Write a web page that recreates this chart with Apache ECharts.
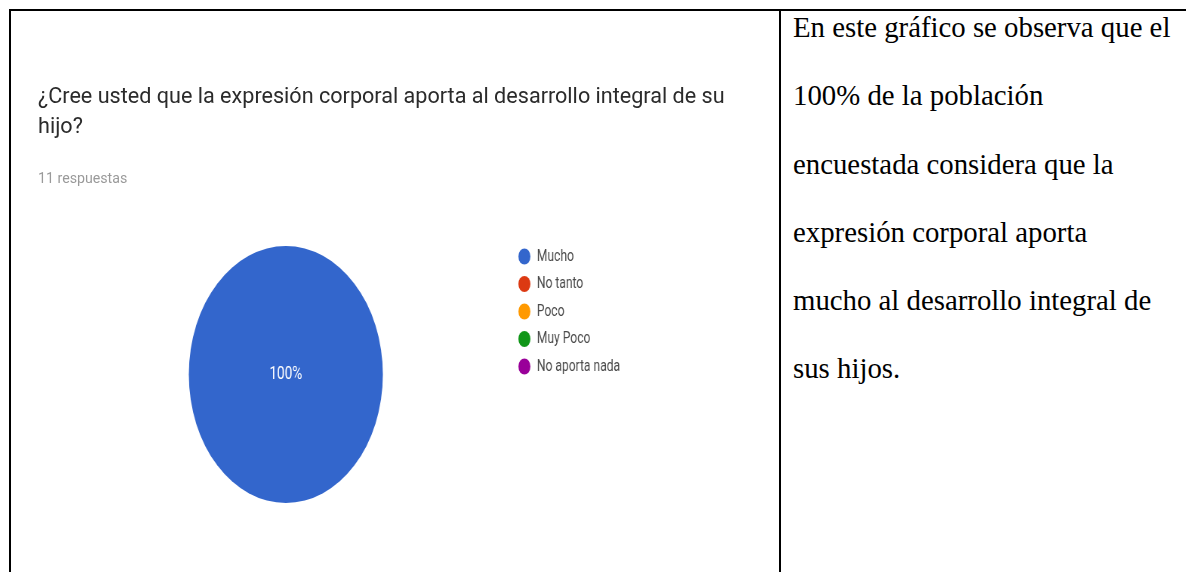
<!DOCTYPE html>
<html>
<head>
<meta charset="utf-8">
<script src="https://cdn.jsdelivr.net/npm/echarts@6/dist/echarts.min.js"></script>
<style>
    html, body {
        margin: 0;
        padding: 0;
        width: 1186px;
        height: 572px;
        background: #fff;
        overflow: hidden;
        position: relative;
    }
    .rule { position: absolute; background: #000; }
    #head {
        position: absolute;
        left: 11px;
        top: 11px;
        width: 768px;
        height: 561px;
    }
    /* el gráfico original está deformado: el círculo sale como elipse */
    #pie {
        position: absolute;
        left: 11px;
        top: 11px;
        width: 1010px;
        height: 561px;
        transform: scaleX(0.755);
        transform-origin: 0 0;
    }
    #note {
        position: absolute;
        left: 793px;
        top: -7px;
        font-family: 'Liberation Serif', 'Times New Roman', serif;
        font-size: 28.8px;
        line-height: 68.3px;
        color: #000;
        white-space: nowrap;
    }
</style>
</head>
<body>
<div class="rule" style="left:9px;top:9px;width:1177px;height:2px;"></div>
<div class="rule" style="left:9px;top:9px;width:2px;height:563px;"></div>
<div class="rule" style="left:779px;top:9px;width:2px;height:563px;"></div>
<div id="head"></div>
<div id="pie"></div>
<div id="note"></div>

<script>
const questionText = '¿Cree usted que la expresión corporal aporta al desarrollo integral de su\nhijo?';
const responsesText = '11 respuestas';
const categories = ['Mucho', 'No tanto', 'Poco', 'Muy Poco', 'No aporta nada'];
const counts = [11, 0, 0, 0, 0];
const noteLines = [
    'En este gráfico se observa que el',
    '100% de la población',
    'encuestada considera que la',
    'expresión corporal aporta',
    'mucho al desarrollo integral de',
    'sus hijos.'
];

// colores por defecto de Google Charts
const palette = ['#3366cc', '#dc3912', '#ff9900', '#109618', '#990099'];

document.getElementById('note').innerHTML = noteLines.map(l => '<div>' + l + '</div>').join('');

// cabecera: pregunta y número de respuestas
const headChart = echarts.init(document.getElementById('head'), null, { renderer: 'canvas' });
headChart.setOption({
    animation: false,
    title: [
        {
            text: questionText,
            left: 22,
            top: 66.5,
            textStyle: {
                fontFamily: 'Roboto',
                fontSize: 21.6,
                fontWeight: 'normal',
                lineHeight: 30,
                color: '#2b2b2b'
            }
        },
        {
            text: responsesText,
            left: 22,
            top: 154.5,
            textStyle: {
                fontFamily: 'Roboto',
                fontSize: 14.2,
                fontWeight: 'normal',
                lineHeight: 17,
                color: '#9a9a9a'
            }
        }
    ]
});

// pastel + leyenda
const pieChart = echarts.init(document.getElementById('pie'), null, { renderer: 'canvas' });
pieChart.setOption({
    animation: false,
    color: palette,
    legend: {
        orient: 'vertical',
        left: 667,
        top: 232.5,
        icon: 'path://M0,1A1,1,0,1,1,2,1A1,1,0,1,1,0,1Z',
        itemWidth: 19,
        itemHeight: 16,
        itemGap: 11.5,
        selectedMode: false,
        data: categories,
        textStyle: {
            fontFamily: 'Roboto',
            fontSize: 16,
            lineHeight: 16,
            color: '#4a4a4a',
            padding: [0, 0, 0, 2]
        }
    },
    series: [
        {
            type: 'pie',
            center: [364, 363.5],
            radius: 128.5,
            startAngle: 90,
            avoidLabelOverlap: false,
            silent: true,
            percentPrecision: 0,
            itemStyle: { borderWidth: 0 },
            label: {
                show: true,
                position: 'center',
                fontFamily: 'Roboto',
                fontSize: 18,
                color: '#fff',
                formatter: (p) => (p.value > 0 ? p.percent + '%' : '')
            },
            labelLine: { show: false },
            data: categories.map((name, i) => ({ name: name, value: counts[i] }))
        }
    ]
});
</script>
</body>
</html>
